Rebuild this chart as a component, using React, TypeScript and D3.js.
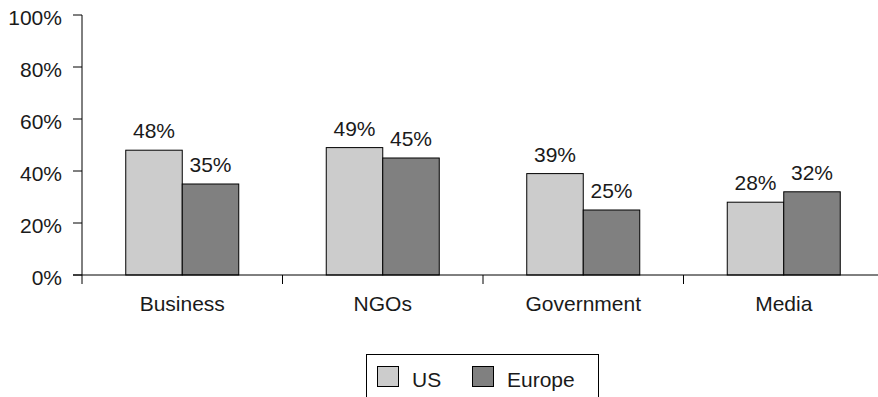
import React from "react";
import { scaleBand, scaleLinear } from "d3";

const categories = ["Business", "NGOs", "Government", "Media"];
const seriesNames = ["US", "Europe"];
const usValues = [48, 49, 39, 28];
const europeValues = [35, 45, 25, 32];
const yTicks = [0, 20, 40, 60, 80, 100];
const colors = ["#cccccc", "#808080"];

export default function App() {
  const width = 878;
  const height = 397;
  const left = 82;
  const top = 15;
  const plotH = 260;
  const bandW = 200.5;

  const x = scaleBand<string>()
    .domain(categories)
    .range([left, left + bandW * categories.length]);
  const inner = scaleBand<string>()
    .domain(seriesNames)
    .range([0, 113]);
  const y = scaleLinear().domain([0, 100]).range([top + plotH, top]);

  const font = "Liberation Sans, Arial, Helvetica, sans-serif";
  const fs = 21;
  const series = [usValues, europeValues];

  return (
    <svg
      width={width}
      height={height}
      style={{ position: "absolute", left: 0, top: 0 }}
      fontFamily={font}
      fill="#1a1a1a"
    >
      {/* y axis */}
      <line x1={left} x2={left} y1={y(100)} y2={y(0) + 9} stroke="#000" />
      {yTicks.map((t) => (
        <g key={t}>
          <line x1={left - 9} x2={left} y1={y(t)} y2={y(t)} stroke="#000" />
          <text x={62} y={y(t) + 10} textAnchor="end" fontSize={fs}>
            {t}%
          </text>
        </g>
      ))}

      {/* bars */}
      {categories.map((c, i) => {
        const gx = x(c)! + (x.bandwidth() - 113) / 2;
        return (
          <g key={c}>
            {seriesNames.map((s, j) => {
              const v = series[j][i];
              const bx = gx + inner(s)!;
              return (
                <g key={s}>
                  <rect
                    x={bx}
                    y={y(v)}
                    width={inner.bandwidth()}
                    height={y(0) - y(v)}
                    fill={colors[j]}
                    stroke="#000"
                    strokeWidth={1}
                  />
                  <text
                    x={bx + inner.bandwidth() / 2}
                    y={y(v) - 12}
                    textAnchor="middle"
                    fontSize={fs}
                  >
                    {v}%
                  </text>
                </g>
              );
            })}
            <text
              x={x(c)! + x.bandwidth() / 2}
              y={311}
              textAnchor="middle"
              fontSize={fs}
            >
              {c}
            </text>
          </g>
        );
      })}

      {/* x axis */}
      <line x1={left - 9} x2={width} y1={y(0)} y2={y(0)} stroke="#000" />
      {categories.map((c, i) =>
        i === 0 ? null : (
          <line
            key={c}
            x1={x(c)}
            x2={x(c)}
            y1={y(0)}
            y2={y(0) + 9}
            stroke="#000"
          />
        )
      )}

      {/* legend */}
      <rect x={366.5} y={354.5} width={232} height={60} fill="#fff" stroke="#000" />
      {seriesNames.map((s, j) => {
        const lx = [377, 472][j];
        return (
          <g key={s}>
            <rect
              x={lx + 0.5}
              y={366.5}
              width={21}
              height={20}
              fill={colors[j]}
              stroke="#000"
            />
            <text x={lx + 35} y={387} fontSize={fs}>
              {s}
            </text>
          </g>
        );
      })}
    </svg>
  );
}
